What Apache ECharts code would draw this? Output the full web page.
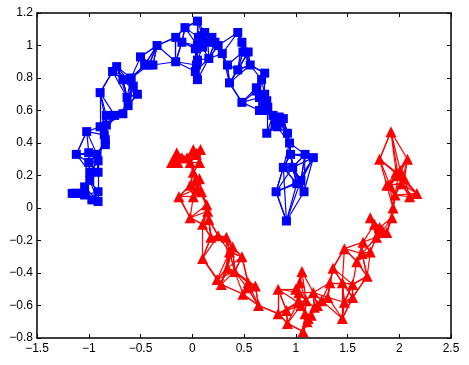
<!DOCTYPE html>
<html>
<head>
<meta charset="utf-8">
<style>
  html, body { margin: 0; padding: 0; background: #fff; }
  #chart { width: 469px; height: 365px; }
</style>
<script src="https://cdn.jsdelivr.net/npm/echarts@6/dist/echarts.min.js"></script>
</head>
<body>
<div id="chart"></div>
<script>
const bluePoints = [
  [-1.16,.09],[-1.12,.09],[-1.09,.09],[-1.04,.13],[-.99,.17],[-1.04,.08],[-.97,.05],[-.91,.04],[-.91,.10],[-.91,.22],
  [-.99,.22],[-1.00,.28],[-.91,.29],[-1.00,.34],[-.92,.33],[-1.12,.33],[-.84,.39],[-.84,.42],[-1.02,.47],[-.89,.50],
  [-.83,.51],[-.83,.57],[-.75,.57],[-.67,.58],[-.62,.63],[-.63,.68],[-.53,.70],[-.89,.71],[-.67,.79],[-.77,.84],
  [-.73,.87],[-.59,.80],[-.50,.93],[-.46,.88],[-.38,.88],[-.34,1.00],[-.16,1.05],[-.10,1.02],[-.07,1.11],[-.16,.90],
  [.05,1.15],[.03,.98],[.12,1.08],[.19,1.05],[.05,1.00],[.05,.91],[.16,.92],[.03,.84],[.05,.79],[.10,.99],
  [.22,1.02],[.25,1.00],[.29,.95],[.44,1.08],[.48,1.02],[.54,.96],[.49,.96],[.34,.88],[.44,.85],[.56,.88],
  [.36,.77],[.70,.83],[.67,.79],[.62,.74],[.48,.65],[.65,.68],[.72,.66],[.65,.60],[.73,.62],[.78,.57],
  [.88,.55],[.80,.52],[.72,.46],[.92,.46],[.94,.40],[.95,.33],[1.09,.33],[1.17,.31],[.88,.25],[.97,.25],
  [1.01,.15],[1.05,.17],[.81,.10],[1.08,.10],[.91,-.08],
  [-1.14,.09],[-1.06,.09],[-.85,.45],[-.57,.75],[-.42,.88],[.06,1.05],[.15,1.02],[.10,1.06],[.04,.88],[.72,.60],
  [.70,.70],[.68,.64],[.62,.72],[.85,.53],[.84,.56],[.82,.50]
]
const redPoints = [
  [-.15,.34],[-.20,.28],[-.14,.28],[-.05,.31],[.01,.36],[.08,.36],[.07,.28],[-.02,.28],[.01,.22],[.07,.18],
  [-.02,.14],[.09,.10],[-.13,.07],[.01,.07],[.14,.02],[.15,-.02],[-.02,-.06],[.10,-.10],[.16,-.07],[.18,-.18],
  [.25,-.17],[.33,-.18],[.36,-.27],[.39,-.24],[.48,-.30],[.10,-.31],[.34,-.37],[.41,-.39],[.24,-.44],[.28,-.47],
  [.54,-.46],[.61,-.48],[.53,-.49],[.49,-.53],[.64,-.60],[.83,-.50],[.83,-.65],[.91,-.63],[.92,-.71],[1.06,-.39],
  [1.04,-.46],[1.02,-.58],[1.17,-.52],[1.09,-.65],[1.18,-.61],[1.07,-.76],[1.11,-.70],[1.21,-.60],[1.12,-.68],[1.31,-.55],
  [1.36,-.37],[1.33,-.46],[1.45,-.46],[1.47,-.58],[1.45,-.68],[1.55,-.47],[1.55,-.55],[1.47,-.25],[1.59,-.33],[1.69,-.42],
  [1.65,-.21],[1.72,-.27],[1.64,-.28],[1.72,-.06],[1.81,-.12],[1.88,-.15],[1.78,-.18],[1.93,-.06],[1.94,0],[1.96,.08],
  [1.91,.14],[1.88,.14],[2.10,.07],[2.17,.09],[2.01,.23],[2.08,.30],[1.81,.30],[1.92,.47],[2.02,.15],[2.05,.18],[1.97,.22],
  [1.03,-.52],[1.05,-.60],[1.10,-.57],[1.15,-.66],[1.00,-.50],[1.25,-.57],[-.10,.31],[-.17,.30],[.04,.33],[.05,.12],
  [.03,.17],[1.80,-.15],[1.84,-.14],[1.76,-.10],[1.99,.20]
]
const neighbours = 5

// nearest neighbour graph, same kind of links as the original figure
function knnLinks(points, k) {
  const links = []
  points.forEach((p, i) => {
    points
      .map((q, j) => ({ j, d: Math.hypot(p[0] - q[0], p[1] - q[1]) }))
      .filter(n => n.j !== i)
      .sort((a, b) => a.d - b.d)
      .slice(0, k)
      .forEach(n => links.push({ source: i, target: n.j }))
  })
  return links
}

function cloud(points, color, symbol, size) {
  return {
    type: 'graph',
    coordinateSystem: 'cartesian2d',
    layout: 'none',
    silent: true,
    symbol,
    symbolSize: size,
    itemStyle: { color },
    lineStyle: { color, width: 1.2, opacity: 1, curveness: 0 },
    label: { show: false },
    data: points,
    links: knnLinks(points, neighbours),
  }
}

const minus = v => String(v).replace('-', '\u2212')
const axisLine = { onZero: false, lineStyle: { color: '#000', width: 1.5 } }
const tickIn = { inside: true, length: 4, lineStyle: { color: '#000', width: 1 } }
const labelFont = { color: '#000', fontFamily: 'Liberation Sans', fontSize: 12, formatter: minus }
const xBase = { type: 'value', min: -1.5, max: 2.5, interval: 0.5, splitLine: { show: false }, axisLine, axisTick: tickIn }
const yBase = { type: 'value', min: -0.8, max: 1.2, interval: 0.2, splitLine: { show: false }, axisLine, axisTick: tickIn }

const chart = echarts.init(document.getElementById('chart'), null, { renderer: 'canvas' })
chart.setOption({
  animation: false,
  backgroundColor: '#fff',
  grid: { left: 37, top: 13, width: 414, height: 325 },
  xAxis: [
    { ...xBase, position: 'bottom', axisLabel: { ...labelFont, margin: 5, hideOverlap: false, showMinLabel: true, showMaxLabel: true } },
    { ...xBase, position: 'top', axisLabel: { show: false } },
  ],
  yAxis: [
    { ...yBase, position: 'left', axisLabel: { ...labelFont, margin: 4, hideOverlap: false, showMinLabel: true, showMaxLabel: true } },
    { ...yBase, position: 'right', axisLabel: { show: false } },
  ],
  series: [
    cloud(bluePoints, '#0000ff', 'rect', 9),
    cloud(redPoints, '#ff0000', 'triangle', 11),
  ],
})
</script>
</body>
</html>
